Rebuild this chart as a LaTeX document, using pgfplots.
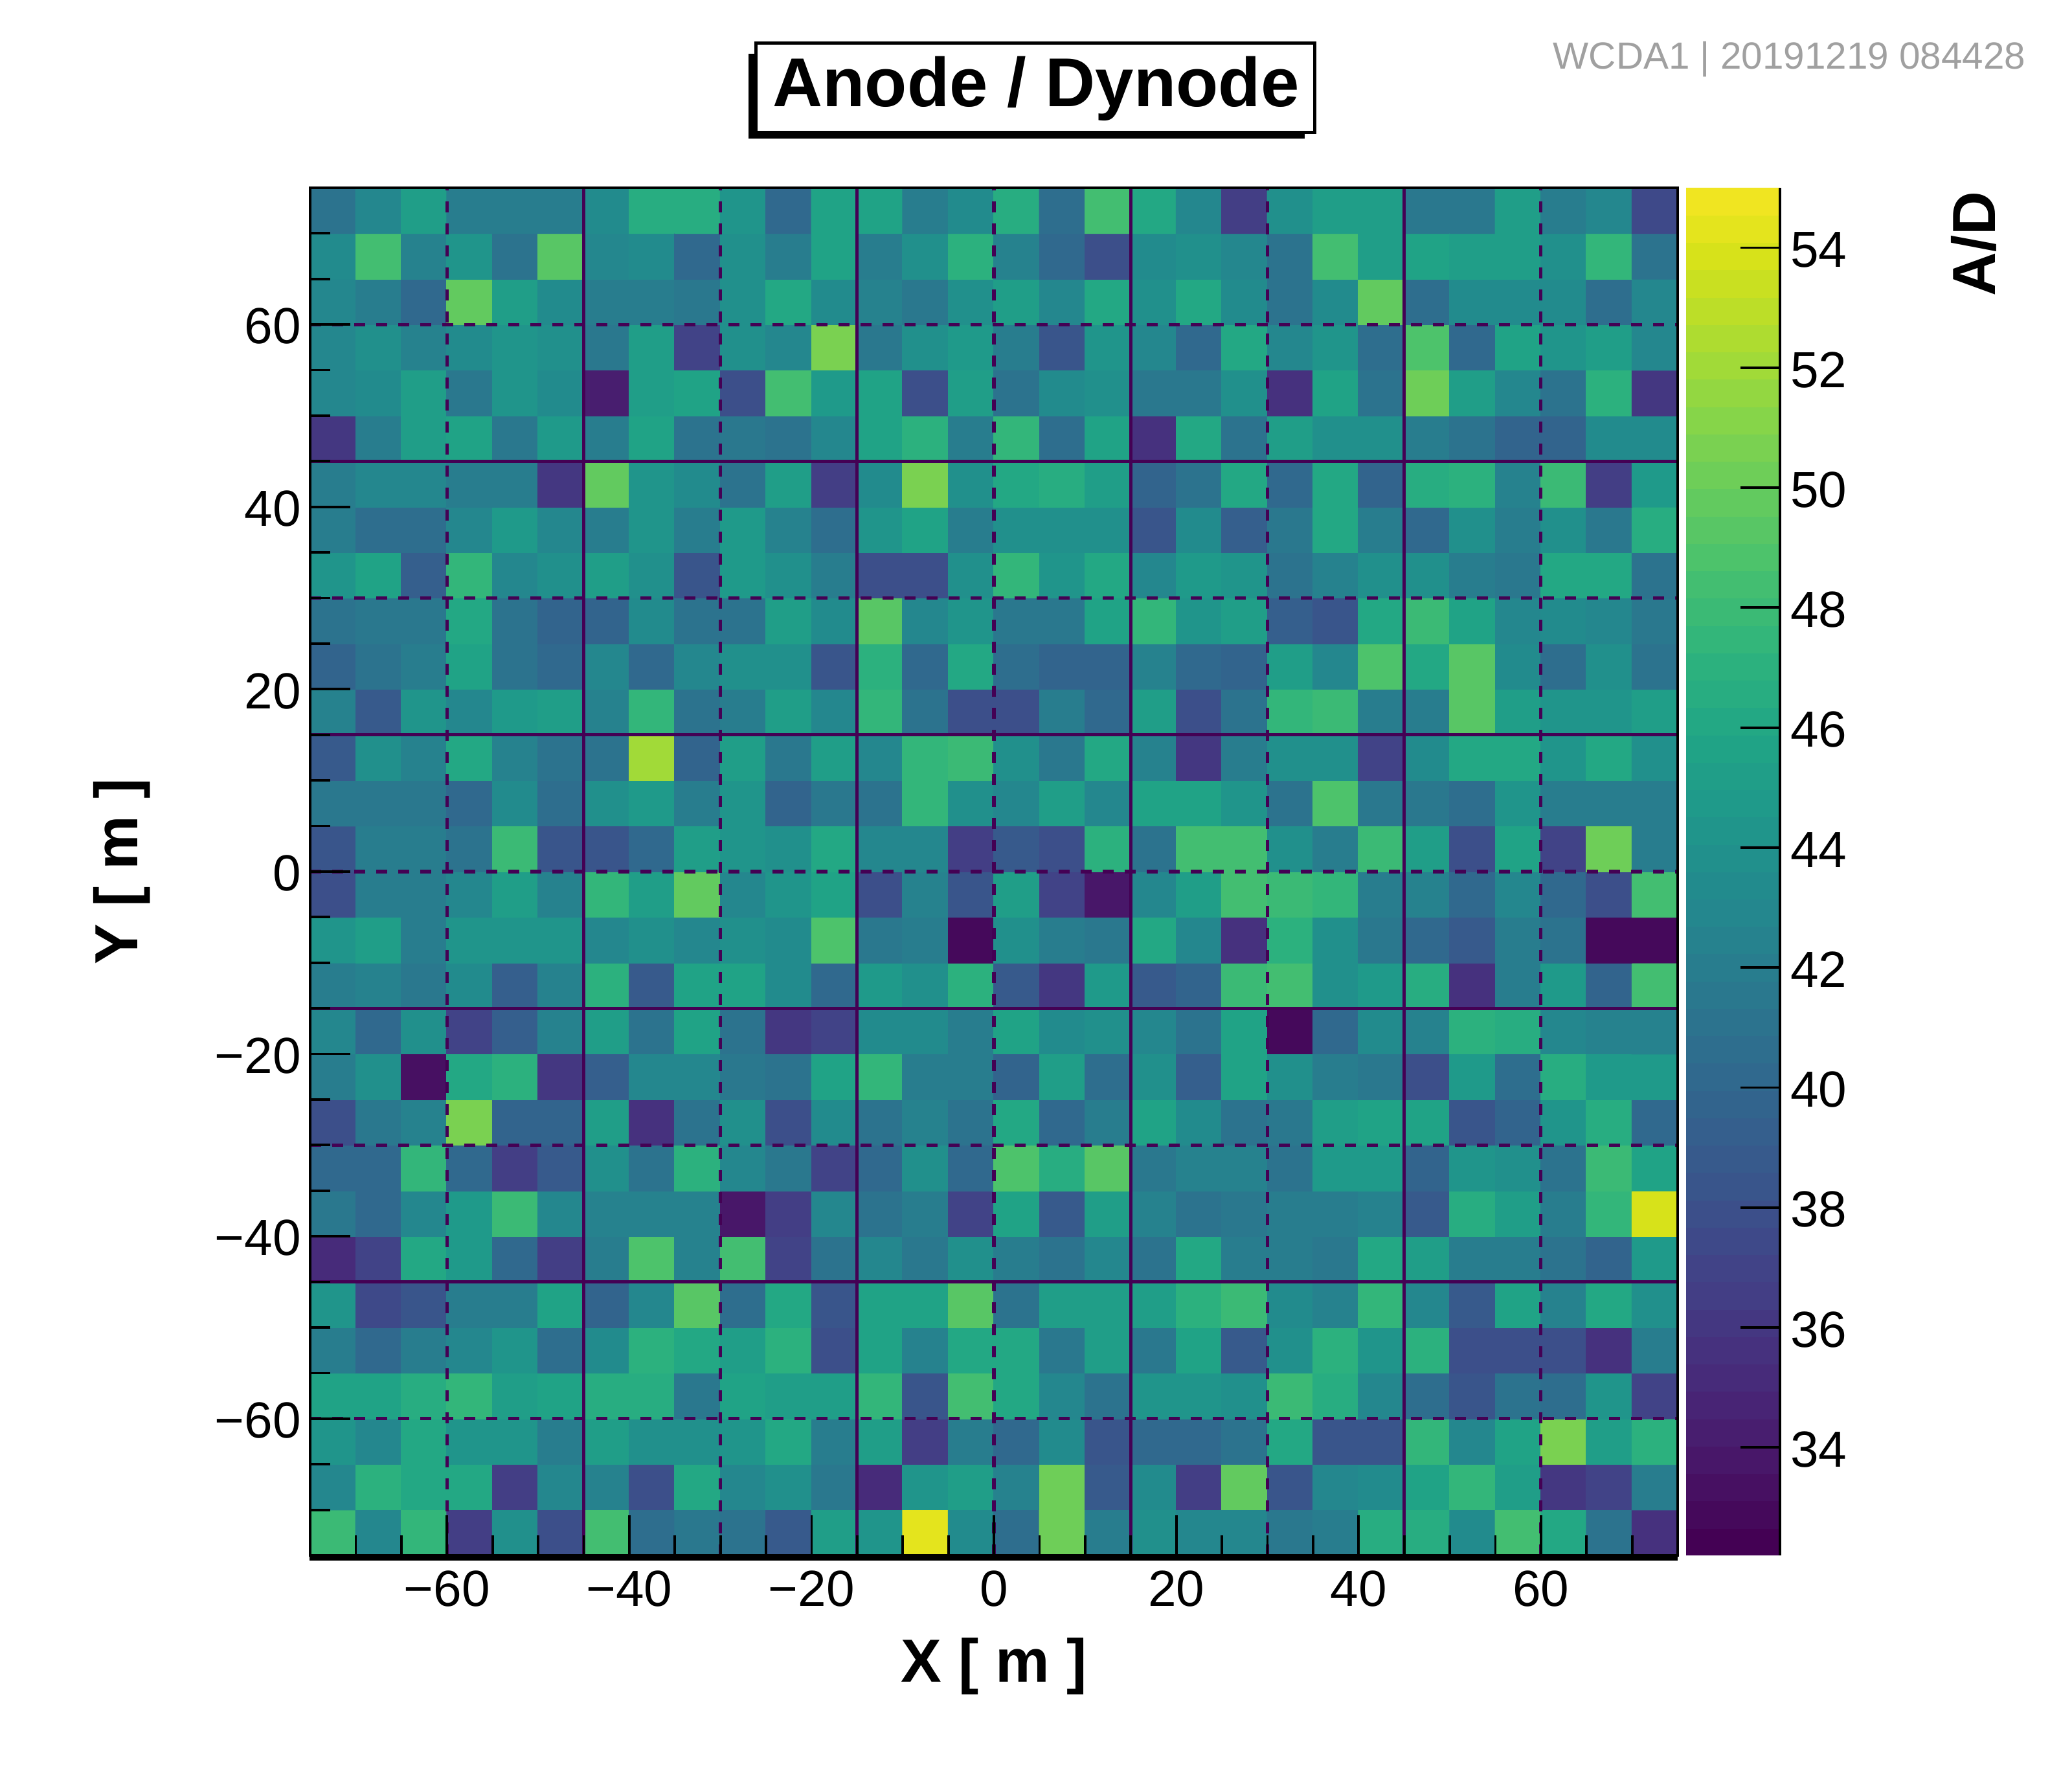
\documentclass[border=0pt]{standalone}
\usepackage{fontspec}
\setmainfont{Liberation Sans}
\usepackage{pgfplots}
\pgfplotsset{compat=1.18}
\usepgfplotslibrary{colormaps}
\definecolor{gl}{HTML}{440154}
\definecolor{stamp}{HTML}{A0A0A0}
\pgfplotsset{colormap={vir51}{samples of colormap=(51 of viridis)}}
\pgfplotsset{colormap={vir50}{indices of colormap=(0,...,49 of vir51)}}
\begin{document}
\begin{tikzpicture}
\useasboundingbox (0,0) rectangle (800pt,688.5pt);
\begin{axis}[
  at={(119.75pt,88pt)}, anchor=south west,
  scale only axis, width=528pt, height=528pt,
  xmin=-75, xmax=75, ymin=-75, ymax=75,
  clip=false, axis on top,
  axis line style={line width=1.2pt},
  tick align=inside, xtick pos=bottom, ytick pos=left,
  xtick={-60,-40,-20,0,20,40,60}, ytick={-60,-40,-20,0,20,40,60},
  xticklabels={−60,−40,−20,0,20,40,60}, yticklabels={−60,−40,−20,0,20,40,60},
  minor xtick={-70,-65,-55,-50,-45,-35,-30,-25,-15,-10,-5,5,10,15,25,30,35,45,50,55,65,70},
  minor ytick={-70,-65,-55,-50,-45,-35,-30,-25,-15,-10,-5,5,10,15,25,30,35,45,50,55,65,70},
  major tick length=15.5pt, minor tick length=7.8pt,
  major tick style={line width=0.95pt,black}, minor tick style={line width=0.95pt,black},
  tick label style={font=\fontsize{19.6}{20}\selectfont},
  xticklabel style={yshift=-2.5pt}, yticklabel style={xshift=0pt,yshift=-0.7pt},
  xlabel={X [ m ]}, ylabel={Y [ m ]},
  xlabel style={font=\fontsize{23.5}{24}\bfseries\selectfont, at={(axis description cs:0.5,-0.0926)}, anchor=base},
  ylabel style={font=\fontsize{23.5}{24}\bfseries\selectfont, at={(axis description cs:-0.126,0.5)}, anchor=base},
  colormap name=vir50, colormap access=piecewise constant,
  point meta min=32.2, point meta max=55,
  colorbar, colorbar sampled,
  colorbar style={
    at={(parent axis.north east)}, anchor=north west, xshift=-5.25pt,
    scale only axis, width=36.25pt, height=528pt,
    samples=51,
    axis x line=none, axis y line*=right,
    axis line style={line width=0.9pt},
    tick align=inside,
    ytick={34,36,38,40,42,44,46,48,50,52,54},
    yticklabels={34,36,38,40,42,44,46,48,50,52,54},
    major tick length=15.25pt,
    major tick style={line width=0.95pt,black},
    yticklabel style={font=\fontsize{19.6}{20}\selectfont, xshift=0.5pt, yshift=-0.8pt},
    ylabel={A/D},
    ylabel style={font=\fontsize{23.5}{24}\bfseries\selectfont, at={(axis description cs:3.29,1.004)}, anchor=base east},
  },
]
\addplot[matrix plot*, mesh/cols=30, mesh/ordering=x varies, shader=flat corner, point meta=\thisrow{v}]
table[row sep=\\, x expr={-75+5*mod(\coordindex+0.5,30)}, y expr={-72.5+5*floor((\coordindex+0.5)/30)}] {
v\\
48\\43\\47.3\\36.5\\43.7\\37.7\\48.4\\40.6\\41.5\\41\\39\\45.3\\44.5\\54.2\\43.3\\40.8\\50\\42\\44\\43\\43\\41.5\\42\\46.7\\46.5\\43.5\\48.5\\46.3\\41\\35.5\\
43\\46.8\\46\\46.2\\36.6\\43\\42.5\\37.7\\46.2\\43\\43.8\\41.5\\35.3\\44.2\\45\\42.6\\50\\38.6\\43.3\\36.5\\49.7\\38.4\\43\\43.3\\45.7\\47.6\\45.2\\36\\36.8\\41.8\\
44.4\\43\\46\\44.5\\44.5\\42\\45\\43.6\\43.6\\44.4\\46\\41.8\\45\\36.6\\41.8\\40.2\\43.4\\38.3\\40.2\\40\\41\\46.2\\38.5\\38.5\\47.3\\43\\45.8\\50.5\\45\\47\\
45.5\\45.5\\46.4\\47.6\\45\\45.5\\46.4\\46.4\\41.7\\45.8\\45\\45\\47.3\\38.3\\48.4\\46\\43\\41.3\\44.2\\44.2\\43.6\\47.8\\46.5\\43\\40.6\\38.5\\41\\40.8\\44.4\\37\\
42\\40.4\\42.2\\42.8\\44.5\\40.6\\43.2\\46.8\\46\\45\\46.9\\38\\45.5\\42.3\\46\\46.3\\41.5\\45.2\\41.6\\45.7\\38.7\\44\\46.8\\44.2\\47\\37.7\\37.7\\38\\35.5\\42\\
44.3\\37.5\\38.5\\41.8\\41.8\\45.8\\39.6\\43\\49.5\\40.7\\46\\38.2\\45.7\\45.7\\49.4\\41.2\\45.3\\45.2\\45\\46.8\\47.8\\43.5\\42.6\\47.6\\43\\39\\45.8\\42.6\\46\\43.9\\
35\\37\\46\\44.7\\40.4\\36.6\\41.8\\48.7\\42.6\\48.6\\37\\41\\42.7\\41.7\\44\\42\\41\\42.7\\41\\46\\42\\42\\41.4\\46\\45.3\\42\\42\\41.2\\39.7\\44.8\\
41.6\\40.3\\43\\44.7\\48\\43\\42.3\\42.3\\42.3\\34\\36.5\\42.8\\41.3\\42\\36.9\\45.5\\38.6\\45.4\\42.6\\41\\41.6\\42\\42\\42.5\\38.7\\46.7\\45.4\\42\\47.3\\53.8\\
40.4\\40\\47.5\\40\\36.5\\38.6\\44\\41\\47.2\\42.8\\41.5\\37\\40.2\\43.7\\40.4\\48.8\\46.5\\49.4\\41.6\\42.4\\42.5\\41\\44.8\\44.8\\39.9\\44.5\\43.7\\41.2\\48\\45.5\\
37.7\\41.6\\42.3\\50.7\\39.8\\39.8\\45.2\\35.7\\41.3\\43.8\\38\\43.3\\41\\42.6\\41.2\\46.3\\40.2\\42\\45.6\\43.3\\41\\41.6\\45.2\\45.5\\45.7\\38.3\\39.7\\44.5\\46.7\\40\\
42\\44\\33.3\\46.3\\46.8\\36\\39.3\\43\\42.8\\41.7\\41.2\\45.7\\47.5\\41.8\\41.9\\39.8\\45\\40.6\\44\\39.3\\45.8\\43.9\\42\\41.7\\38\\44.6\\40.6\\46.7\\44.8\\44.8\\
42.8\\40\\44\\37\\39.3\\42.3\\45.2\\41\\45.5\\41.2\\36.2\\36.8\\43.2\\43.2\\41.8\\45.6\\43.3\\43.7\\42.7\\41.2\\45.7\\33\\40.4\\43.4\\42.6\\47\\46.7\\42.8\\42.5\\42.3\\
42.2\\42.4\\41.6\\43.2\\39.3\\42.4\\46.8\\39\\45.7\\45.8\\43.2\\40\\44.8\\44\\46.9\\38.8\\36.3\\44.6\\38.8\\39.7\\47.8\\48.3\\43.7\\44.6\\46.7\\35.5\\41.8\\44.6\\39.7\\48.3\\
44.2\\45.3\\42.2\\44.3\\44.3\\44.3\\42.7\\43.6\\42.8\\43.8\\43.3\\49\\41.4\\41.8\\33\\43.7\\42\\41.5\\46.2\\42.8\\35.7\\47\\44\\41.5\\40.3\\38.6\\42\\41\\33\\33\\
38\\42.2\\42.2\\42.7\\45\\42.5\\47.4\\45\\49.7\\42.8\\44.2\\45.6\\37.8\\42.5\\38.2\\45\\37\\34\\42.7\\45.3\\48.3\\48\\47.5\\42\\42.3\\40\\42.8\\40.3\\37.8\\48.3\\
38.3\\42.2\\42\\41\\48\\38.2\\38.3\\40\\45\\44.5\\43.7\\46\\42.8\\42.8\\36.5\\38.6\\37.7\\47\\41.2\\48.5\\48.5\\44\\42.2\\47.8\\45.4\\37.8\\45.7\\37.2\\50.2\\42.2\\
41.5\\41.5\\41.7\\40\\43.5\\40.5\\44\\44.7\\42\\44.3\\39.8\\41.7\\41\\47.5\\44\\42.8\\45.3\\43\\45.7\\45.7\\44.5\\41\\48.9\\41.7\\41.5\\40.8\\44.5\\41.8\\41.8\\42\\
39\\44\\42.5\\46.3\\42.3\\41.2\\41.2\\52\\39.5\\45\\41.5\\45\\43\\47.5\\48\\43.7\\41.7\\46.3\\42.5\\36\\42\\44\\43.7\\36.8\\43.4\\46\\46\\44.3\\46.2\\44\\
42.3\\38.8\\44.5\\43\\44.6\\45\\42.5\\47.3\\41.3\\42\\45.2\\43\\47.3\\41.2\\37.8\\38\\42\\40\\45.3\\38\\41.2\\47.4\\47.8\\41.8\\41.8\\49.5\\45\\44.3\\44.3\\45.3\\
39.5\\41\\42\\45.6\\41\\40\\42.8\\40\\43\\44\\43.7\\38.5\\46.8\\40\\46.3\\40.6\\39.7\\39.8\\42.3\\40\\39.8\\45\\43\\48.7\\46.2\\49.5\\43.2\\40.5\\43.8\\41\\
41\\41.5\\41.5\\46\\41.2\\39.5\\39.8\\43.5\\41\\41\\45\\43.5\\49.5\\43\\44.5\\41.5\\41.5\\45.7\\47.6\\44.3\\45\\39.3\\38.2\\46\\47.8\\45.8\\42.7\\43.5\\42.7\\41.7\\
44.3\\45.5\\39.3\\47.5\\42.8\\44\\45.3\\43.9\\38.3\\44.8\\43.8\\42\\38\\38\\44\\47.5\\44.2\\46.3\\42.8\\44.8\\44.3\\41.3\\42.6\\43.7\\44\\42\\41.5\\46\\46.2\\41\\
42.2\\40.8\\40.8\\42.7\\44.8\\43\\42\\44.5\\42.2\\44.8\\42.5\\40.5\\44.5\\45.5\\42\\43.7\\43.7\\43.7\\38.5\\43.5\\39.2\\41.7\\46.3\\42\\40\\43.7\\42\\43.9\\41.5\\46.5\\
42\\42.8\\42.8\\42.2\\42.2\\36.3\\49.8\\44.5\\43.3\\41.2\\45\\36.7\\43.3\\50.6\\44\\46\\46.5\\45\\39.8\\41\\46\\40.3\\46.3\\39.5\\46.5\\47.2\\42.5\\47.8\\36.5\\44.8\\
36\\42\\45.3\\45.5\\41.7\\44.8\\42\\45.7\\41\\41.7\\41.3\\42.7\\45.7\\46.8\\41.9\\47.5\\40.8\\45.8\\35.8\\46\\41.2\\45.3\\44\\44\\41.8\\41\\39.5\\39.5\\43.3\\43.3\\
42.7\\43.5\\45\\41.7\\44.3\\43.3\\34.3\\45.3\\45.6\\38\\48.3\\44.8\\45.5\\37.8\\45.4\\41.2\\43.5\\44\\41.7\\41.7\\43.7\\35.5\\45.8\\41\\50\\45\\43\\41.3\\47.2\\36.2\\
43\\44\\42.3\\43.5\\44.3\\44\\41.5\\45\\37\\44\\43\\50.7\\41.5\\43.8\\44.7\\41.8\\38.5\\44.5\\43\\40\\46\\42.7\\44.5\\40.5\\48.7\\40\\45.8\\44.3\\45\\43\\
42.7\\42\\40\\49.7\\45\\43.3\\42\\42\\41.5\\43.8\\46.3\\43.2\\42.3\\41.5\\43.8\\45.3\\42.7\\46\\44\\46\\43.3\\41\\43.3\\49.8\\40.7\\43.5\\43.2\\43.2\\40.8\\43\\
43.3\\48.5\\42.5\\44.5\\41\\49.2\\42.7\\43.2\\40\\43.7\\42\\45.8\\42.2\\44\\46.8\\42.3\\40\\38\\43.5\\44\\43\\41\\48.3\\45\\45.5\\45.2\\45.2\\44\\47.3\\41\\
41\\43\\45\\42\\42\\42\\43.5\\46.5\\46.5\\44.5\\40\\45.5\\45.8\\42\\43.5\\46.5\\40.5\\48.3\\46\\42.8\\36.5\\43.8\\45\\45\\41.5\\41.5\\45.3\\41.8\\42.8\\37.5\\
};
\foreach \v in {-45,-15,15,45} {
  \edef\tmp{\noexpand\addplot[gl, line width=1.3pt, forget plot] coordinates {(\v,-75)(\v,75)};
            \noexpand\addplot[gl, line width=1.3pt, forget plot] coordinates {(-75,\v)(75,\v)};}
  \tmp
}
\foreach \v in {-60,-30,0,30,60} {
  \edef\tmp{\noexpand\addplot[gl, line width=1.3pt, dash pattern=on 4.25pt off 4.25pt, forget plot] coordinates {(\v,-75)(\v,75)};
            \noexpand\addplot[gl, line width=1.3pt, dash pattern=on 4.25pt off 4.25pt, forget plot] coordinates {(-75,\v)(75,\v)};}
  \tmp
}
\addplot[black, line width=1.9pt, forget plot] coordinates {(-75.1,-75.3)(75,-75.3)};
\end{axis}
\fill[black] (289pt,635pt) rectangle (503.75pt,667.75pt);
\draw[black, fill=white, line width=1.1pt] (291.9pt,637.4pt) rectangle (507.6pt,671.9pt);
\node[font=\fontsize{26.7}{27}\bfseries\selectfont, anchor=base, inner sep=0pt] at (400pt,647.25pt) {Anode / Dynode};
\node[font=\fontsize{14.6}{15}\selectfont, text=stamp, anchor=base east, inner sep=0pt] at (782.25pt,661.75pt) {WCDA1 | 20191219 084428};
\end{tikzpicture}
\end{document}
